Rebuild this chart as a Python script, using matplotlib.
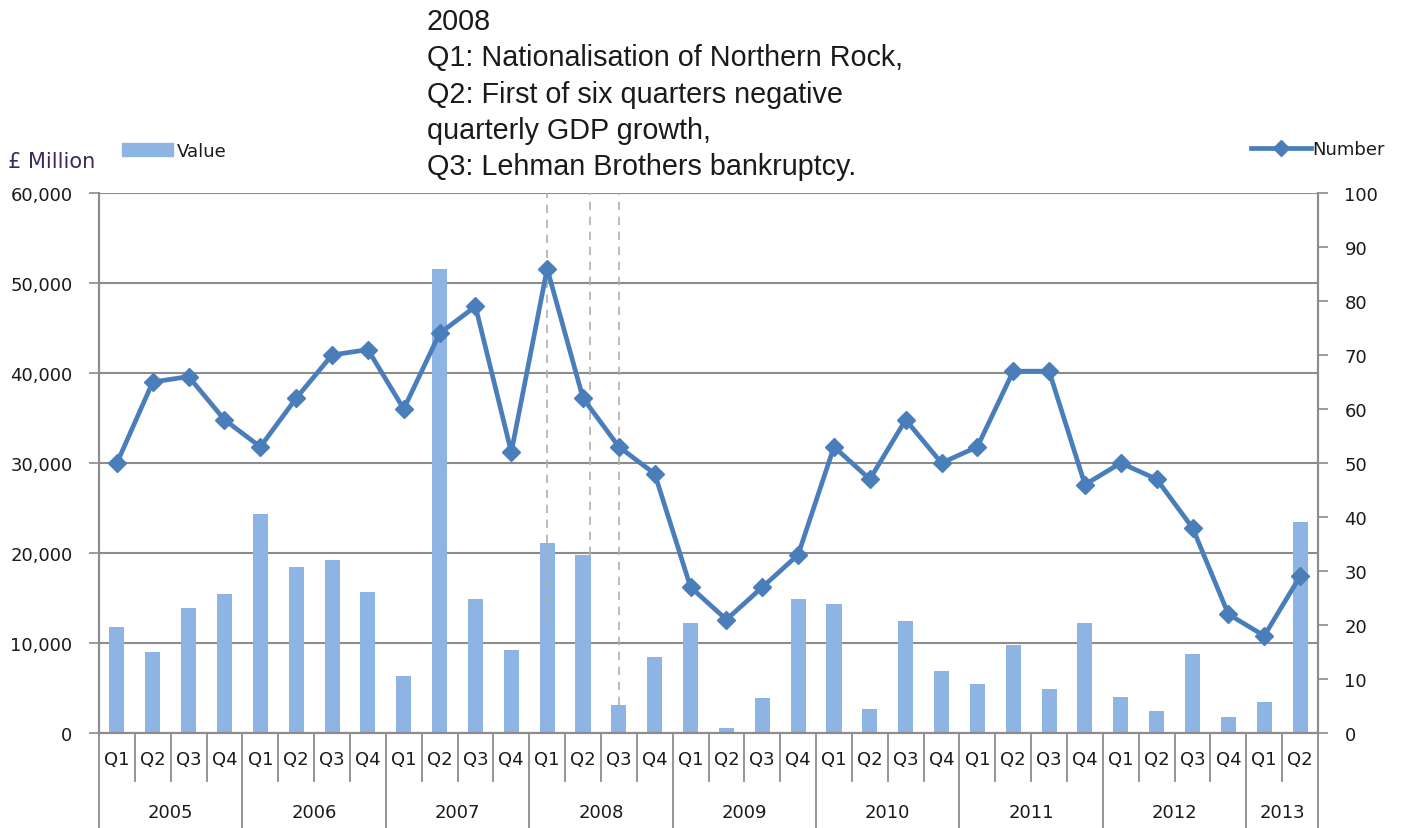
import matplotlib.pyplot as plt
import matplotlib.transforms as mtransforms
from matplotlib.lines import Line2D
from matplotlib.patches import Patch

years = ['2005', '2006', '2007', '2008', '2009', '2010', '2011', '2012', '2013']
quarters = ['Q1', 'Q2', 'Q3', 'Q4'] * 8 + ['Q1', 'Q2']

# value of deals, £ million
value = [11800, 9000, 13900, 15500,
         24300, 18400, 19200, 15700,
         6300, 51600, 14900, 9200,
         21100, 19800, 3100, 8400,
         12200, 600, 3900, 14900,
         14300, 2700, 12400, 6900,
         5500, 9800, 4900, 12200,
         4000, 2400, 8800, 1800,
         3400, 23500]

# number of deals
number = [50, 65, 66, 58,
          53, 62, 70, 71,
          60, 74, 79, 52,
          86, 62, 53, 48,
          27, 21, 27, 33,
          53, 47, 58, 50,
          53, 67, 67, 46,
          50, 47, 38, 22,
          18, 29]

bar_color = '#8EB4E3'
line_color = '#4A7EBB'
grid_color = '#8c8c8c'
text_color = '#1a1a1a'
fs = 13

fig = plt.figure(figsize=(14.05, 8.29), dpi=100)
ax = fig.add_axes([99/1405, 1 - 734/829, (1318-99)/1405, (734-194)/829])

x = list(range(len(value)))
ax.bar(x, value, width=0.42, color=bar_color, zorder=2)
ax.set_xlim(-0.5, len(value) - 0.5)
ax.set_ylim(0, 60000)
ax.set_yticks(range(0, 60001, 10000))
ax.set_yticklabels([f'{v:,}' for v in range(0, 60001, 10000)])
ax.grid(axis='y', color=grid_color, linewidth=1.5, zorder=0)
ax.set_axisbelow(True)
ax.tick_params(axis='y', length=7, width=1.2, color=grid_color, labelsize=fs,
               labelcolor=text_color, pad=12)
ax.set_xticks([])
ax.spines['top'].set_visible(False)
for s in ['left', 'right', 'bottom']:
    ax.spines[s].set_color(grid_color)
    ax.spines[s].set_linewidth(1.5)

# dashed markers for 2008 events
ax.vlines([12, 13.2, 14], [12800, 19800, 3100], 60000, colors='#b0b0b0',
          linestyles=(0, (5, 4)), linewidth=1.2, zorder=3)

ax2 = ax.twinx()
ax2.plot(x, number, color=line_color, linewidth=3.4, marker='D', markersize=9.5,
         zorder=4)
ax2.set_ylim(0, 100)
ax2.set_yticks(range(0, 101, 10))
ax2.tick_params(axis='y', length=7, width=1.2, color=grid_color, labelsize=fs,
                labelcolor=text_color, pad=12)
ax2.spines['top'].set_visible(False)
for s in ['left', 'right', 'bottom']:
    ax2.spines[s].set_color(grid_color)
    ax2.spines[s].set_linewidth(1.5)

# category axis: quarters and years
trans = mtransforms.blended_transform_factory(ax.transData, ax.transAxes)
for i, q in enumerate(quarters):
    ax.text(i, -0.048, q, transform=trans, ha='center', va='center',
            fontsize=fs, color=text_color)
for b in range(len(quarters) + 1):
    long_line = (b % 4 == 0) or b == len(quarters)
    y0 = -0.176 if long_line else -0.089
    ax.plot([b - 0.5, b - 0.5], [0, y0], transform=trans, color=grid_color,
            linewidth=1.3, clip_on=False)
for k, yr in enumerate(years):
    start = k * 4
    end = min(start + 4, len(quarters))
    ax.text((start + end - 1) / 2, -0.146, yr, transform=trans, ha='center',
            va='center', fontsize=fs, color=text_color)

# axis title and legends
fig.text(8/1405, 1 - 162/829, '£ Million', fontsize=15, color='#3d2a5a',
         va='center', ha='left')
fig.legend(handles=[Patch(color=bar_color, label='Value')],
           loc='center left', bbox_to_anchor=(106/1405, 1 - 152/829),
           frameon=False, fontsize=fs, handlelength=2.8, handleheight=0.7,
           handletextpad=0.2, labelcolor=text_color)
fig.legend(handles=[Line2D([], [], color=line_color, linewidth=3.4, marker='D',
                           markersize=8.5, label='Number')],
           loc='center left', bbox_to_anchor=(1235/1405, 1 - 150/829),
           frameon=False, fontsize=fs, handlelength=3.3,
           handletextpad=0.1, labelcolor=text_color)

fig.text(427/1405, 1 - 8/829,
         '2008\nQ1: Nationalisation of Northern Rock,\n'
         'Q2: First of six quarters negative\nquarterly GDP growth,\n'
         'Q3: Lehman Brothers bankruptcy.',
         fontsize=20.7, family='Liberation Sans', color=text_color,
         va='top', ha='left', linespacing=1.38)

fig.savefig('out.png', dpi=100)
